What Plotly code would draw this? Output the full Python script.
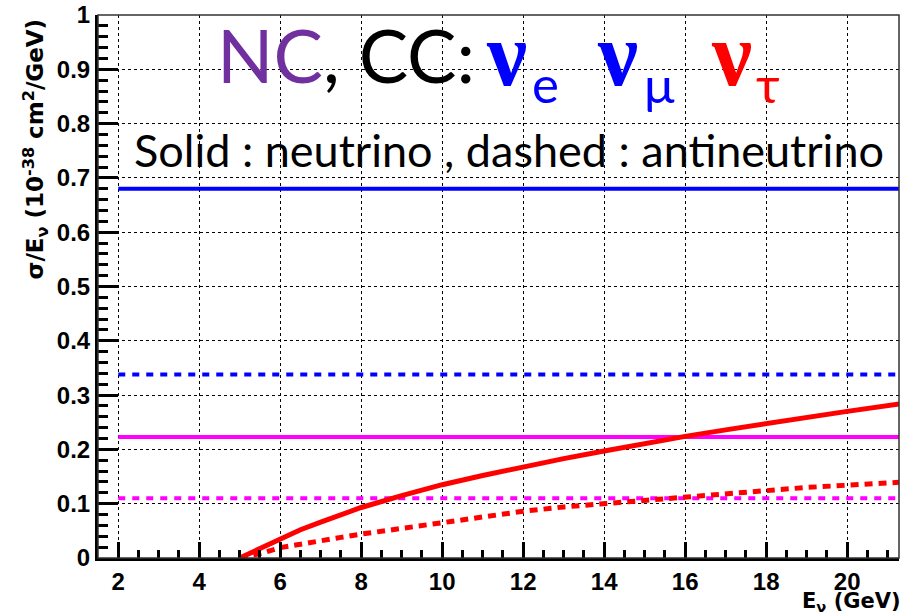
import plotly.graph_objects as go

# ---------------- data ----------------
E_flat = [2, 21.4]
nue_cc_nu = [0.68, 0.68]        # blue solid
nue_cc_nubar = [0.338, 0.338]   # blue dashed
nc_nu = [0.223, 0.223]          # magenta solid
nc_nubar = [0.11, 0.11]         # magenta dashed

E_tau = [5, 5.25, 5.5, 6, 6.5, 7, 7.5, 8, 9, 10, 11, 12, 13, 14, 15, 16, 17, 18, 19, 20, 21.4]
nutau_cc_nu = [0, 0.009, 0.018, 0.036, 0.052, 0.066, 0.08, 0.093, 0.115, 0.135, 0.152,
               0.168, 0.183, 0.197, 0.211, 0.224, 0.236, 0.248, 0.259, 0.27, 0.285]
nutau_cc_nubar = [0, 0.004, 0.008, 0.019, 0.026, 0.032, 0.038, 0.044, 0.055, 0.065, 0.076,
                  0.086, 0.094, 0.1, 0.107, 0.113, 0.119, 0.125, 0.13, 0.134, 0.14]

x_ticks = [2, 4, 6, 8, 10, 12, 14, 16, 18, 20]
y_ticks = [0, 0.1, 0.2, 0.3, 0.4, 0.5, 0.6, 0.7, 0.8, 0.9, 1]

# ---------------- layout geometry ----------------
W, H = 905, 616
L, R, T, B = 98, 6, 15, 58
PW, PH = W - L - R, H - T - B


def px(x):
    return (x - L) / PW


def py(y):
    return (H - B - y) / PH


fig = go.Figure()

fig.add_trace(go.Scatter(x=E_flat, y=nue_cc_nu, mode="lines",
                         line=dict(color="#0000FF", width=4)))
fig.add_trace(go.Scatter(x=E_flat, y=nue_cc_nubar, mode="lines",
                         line=dict(color="#0000FF", width=4, dash="7px,7px")))
fig.add_trace(go.Scatter(x=E_flat, y=nc_nu, mode="lines",
                         line=dict(color="#FF00FF", width=4)))
fig.add_trace(go.Scatter(x=E_flat, y=nc_nubar, mode="lines",
                         line=dict(color="#FF00FF", width=4, dash="7px,7px")))
fig.add_trace(go.Scatter(x=E_tau, y=nutau_cc_nu, mode="lines",
                         line=dict(color="#FF0000", width=5)))
fig.add_trace(go.Scatter(x=E_tau, y=nutau_cc_nubar, mode="lines",
                         line=dict(color="#FF0000", width=5, dash="8px,6px")))

TF = dict(family="Liberation Sans", size=24, color="black", weight="bold")

xaxis = dict(
    range=[1.5, 21.28], tickmode="array", tickvals=x_ticks,
    ticktext=[str(v) for v in x_ticks],
    ticks="inside", ticklen=16, tickwidth=3, tickcolor="black",
    showline=True, linewidth=3, linecolor="black",
    showgrid=True, gridcolor="black", gridwidth=1, griddash="dot",
    zeroline=False, tickfont=TF, automargin=False,
)
yaxis = dict(
    range=[0, 1], tickmode="array", tickvals=y_ticks,
    ticktext=["%g" % v for v in y_ticks],
    ticks="inside", ticklen=20, tickwidth=3, tickcolor="black",
    showline=True, linewidth=3, linecolor="black",
    showgrid=True, gridcolor="black", gridwidth=1, griddash="dot",
    zeroline=False, tickfont=TF, automargin=False,
)
# minor ticks drawn on overlaying axes
xaxis2 = dict(
    overlaying="x", matches="x", range=[1.5, 21.28], showticklabels=False,
    ticks="inside", ticklen=8, tickwidth=2.5, tickcolor="black",
    tickmode="linear", tick0=0, dtick=0.5, showgrid=False, zeroline=False,
    showline=False, side="bottom",
)
yaxis2 = dict(
    overlaying="y", matches="y", range=[0, 1], showticklabels=False,
    ticks="inside", ticklen=10, tickwidth=2.5, tickcolor="black",
    tickmode="linear", tick0=0, dtick=0.02, showgrid=False, zeroline=False,
    showline=False, side="left",
)
fig.add_trace(go.Scatter(x=[3], y=[0.5], xaxis="x2", yaxis="y2", mode="markers",
                         marker=dict(opacity=0), hoverinfo="skip"))

ann = []
# axis titles
ann.append(dict(text="σ/E<sub>ν</sub> (10<sup>-38</sup> cm<sup>2</sup>/GeV)",
                xref="paper", yref="paper", x=px(35), y=py(17),
                xanchor="center", yanchor="top", textangle=-90, showarrow=False,
                font=dict(family="DejaVu Sans", size=23, color="black", weight="bold")))
ann.append(dict(text="E<sub>ν</sub> (GeV)", xref="paper", yref="paper",
                x=px(903), y=py(602), xanchor="right", yanchor="middle", showarrow=False,
                font=dict(family="DejaVu Sans", size=21, color="black", weight="bold")))

# big header
big = "Lato"
ann.append(dict(text="<span style='color:#7030A0'>NC</span>, CC:",
                xref="paper", yref="paper", x=px(215), y=py(83 - 0.387 * 74),
                xanchor="left", yanchor="middle", showarrow=False,
                font=dict(family=big, size=74, color="black")))
for cx, col, sub, scx in [(506, "#0000FF", "e", 545), (617, "#0000FF", "μ", 659),
                          (731, "#FF0000", "τ", 768)]:
    ann.append(dict(text="ν", xref="paper", yref="paper", x=px(cx), y=py(85 - 0.3375 * 90),
                    xanchor="center", yanchor="middle", showarrow=False,
                    font=dict(family="Liberation Serif", size=90, color=col, weight="bold")))
    ann.append(dict(text=sub, xref="paper", yref="paper", x=px(scx), y=py(103 - 0.387 * 51),
                    xanchor="center", yanchor="middle", showarrow=False,
                    font=dict(family=big, size=51, color=col)))

ann.append(dict(text="Solid : neutrino , dashed : antineutrino",
                xref="paper", yref="paper", x=px(509), y=py(167 - 0.387 * 45),
                xanchor="center", yanchor="middle", showarrow=False,
                font=dict(family=big, size=45, color="black")))

fig.update_layout(
    width=W, height=H, margin=dict(l=L, r=R, t=T, b=B, autoexpand=False),
    paper_bgcolor="white", plot_bgcolor="rgba(0,0,0,0)", showlegend=False,
    xaxis=xaxis, yaxis=yaxis, xaxis2=xaxis2, yaxis2=yaxis2, annotations=ann,
    shapes=[dict(type="rect", xref="paper", yref="paper", x0=0, x1=1, y0=0, y1=1,
                 line=dict(color="#333333", width=1.5), layer="above")],
)

fig.write_html("out.html")
